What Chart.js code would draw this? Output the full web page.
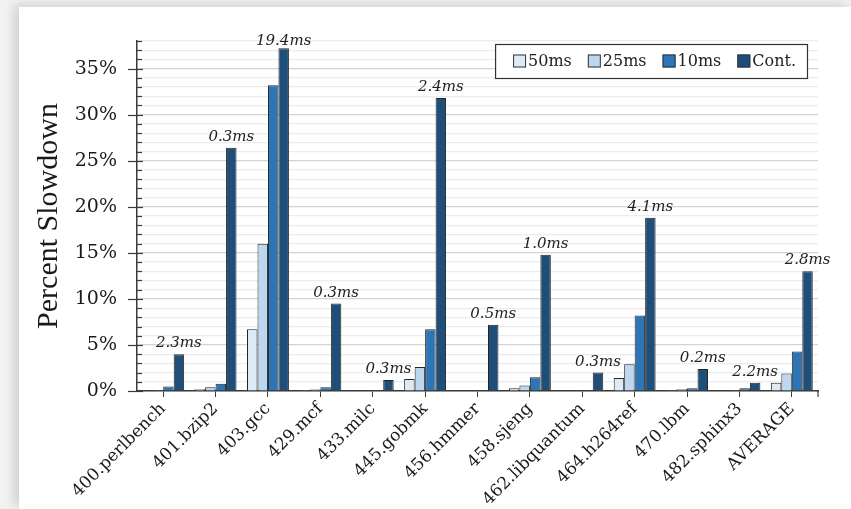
<!DOCTYPE html>
<html><head><meta charset="utf-8">
<script src="https://cdn.jsdelivr.net/npm/chart.js@4.4.0/dist/chart.umd.min.js"></script>
<style>
html,body{margin:0;padding:0;}
body{width:851px;height:509px;position:relative;overflow:hidden;background:#f2f2f2;}
#page{position:absolute;left:19px;top:7px;right:0;bottom:0;background:#fff;box-shadow:-5px -3px 10px rgba(0,0,0,0.14);}
#wrap{position:absolute;left:0;top:0;width:851px;height:509px;}
</style></head><body>
<div id="page"></div>
<div id="wrap"><canvas id="c" width="851" height="509"></canvas></div>
<script>
const categories = ['400.perlbench','401.bzip2','403.gcc','429.mcf','433.milc','445.gobmk','456.hmmer','458.sjeng','462.libquantum','464.h264ref','470.lbm','482.sphinx3','AVERAGE'];
const seriesNames = ['50ms','25ms','10ms','Cont.'];
const slow50ms = [0.05, 0.2, 6.7, 0.1, 0.05, 1.3, 0.05, 0.3, 0.05, 1.4, 0.1, 0.05, 0.9];
const slow25ms = [0.1, 0.4, 16.0, 0.15, 0.05, 2.6, 0.05, 0.6, 0.05, 2.9, 0.2, 0.1, 1.9];
const slow10ms = [0.5, 0.8, 33.2, 0.4, 0.1, 6.7, 0.05, 1.5, 0.1, 8.2, 0.3, 0.3, 4.3];
const slowCont = [4.0, 26.4, 37.2, 9.5, 1.2, 31.8, 7.2, 14.8, 2.0, 18.8, 2.4, 0.9, 13.0];
const contLabels = ['2.3ms','0.3ms','19.4ms','0.3ms','0.3ms','2.4ms','0.5ms','1.0ms','0.3ms','4.1ms','0.2ms','2.2ms','2.8ms'];
const yMax = 38;
const yMajorStep = 5;

const colors = ['#deebf7','#bdd7ee','#2e75b6','#1f4e79'];
const serif = 'DejaVu Serif';

const decor = {
  id: 'decor',
  afterDraw(chart) {
    const ctx = chart.ctx;
    const ys = chart.scales.y;
    const ca = chart.chartArea;
    ctx.save();
    // y ticks (minor inside, major crossing)
    ctx.strokeStyle = '#3a3a3a';
    ctx.lineWidth = 1.2;
    const ax = ca.left;
    for (let v = 0; v <= yMax; v++) {
      const y = Math.round(ys.getPixelForValue(v)) + 0.5;
      ctx.beginPath();
      if (v % yMajorStep === 0) { ctx.moveTo(ax - 9, y); ctx.lineTo(ax + 6, y); }
      else { ctx.moveTo(ax, y); ctx.lineTo(ax + 5, y); }
      ctx.stroke();
    }
    // end tick on x axis
    ctx.beginPath();
    ctx.moveTo(ca.right, ca.bottom); ctx.lineTo(ca.right, ca.bottom + 6); ctx.stroke();

    // labels above Cont bars
    const meta = chart.getDatasetMeta(3);
    ctx.fillStyle = '#222';
    ctx.font = 'italic 15px "' + serif + '"';
    ctx.textAlign = 'center';
    ctx.textBaseline = 'alphabetic';
    meta.data.forEach((el, i) => {
      const y = Math.max(el.y - 7, ca.top + 4);
      ctx.fillText(contLabels[i], el.x, y);
    });

    // legend box
    ctx.font = '16px "' + serif + '"';
    const widths = seriesNames.map(n => ctx.measureText(n).width);
    const boxW = 18 + widths.reduce((a, w) => a + 15 + w, 0) + 16 * (seriesNames.length - 1) + 11;
    const boxH = 34;
    const right = ca.right - 11;
    const top = ca.top + 3;
    const left = right - boxW;
    ctx.fillStyle = '#fff';
    ctx.fillRect(left, top, boxW, boxH);
    ctx.strokeStyle = '#333';
    ctx.lineWidth = 1.2;
    ctx.strokeRect(left + 0.5, top + 0.5, boxW, boxH);
    let x = left + 18;
    const cy = top + boxH / 2;
    ctx.textAlign = 'left';
    ctx.textBaseline = 'middle';
    seriesNames.forEach((n, i) => {
      ctx.fillStyle = colors[i];
      ctx.fillRect(x, cy - 6.5, 13, 13);
      ctx.strokeStyle = '#333';
      ctx.lineWidth = 1;
      ctx.strokeRect(x + 0.5, cy - 6.5 + 0.5, 12, 12);
      ctx.fillStyle = '#222';
      ctx.fillText(n, x + 15, cy + 1);
      x += 15 + widths[i] + 16;
    });
    ctx.restore();
  }
};

const seriesData = [slow50ms, slow25ms, slow10ms, slowCont];
new Chart(document.getElementById('c'), {
  type: 'bar',
  data: {
    labels: categories,
    datasets: seriesNames.map((n, i) => ({
      label: n,
      data: seriesData[i],
      backgroundColor: colors[i],
      borderColor: '#262626',
      borderWidth: 1,
      barPercentage: 1.0,
      categoryPercentage: 0.8
    }))
  },
  options: {
    responsive: false,
    devicePixelRatio: 1,
    animation: false,
    layout: { padding: { left: 19, top: 41, right: 33, bottom: 0 } },
    plugins: { legend: { display: false }, tooltip: { enabled: false } },
    scales: {
      x: {
        afterFit(s) { s.height = 118; },
        border: { color: '#3a3a3a', width: 1.5 },
        grid: { display: true, drawOnChartArea: false, drawTicks: true, tickLength: 6, offset: false, color: '#3a3a3a' },
        ticks: { maxRotation: 45, minRotation: 45, autoSkip: false, padding: 2, color: '#1a1a1a', font: { family: serif, size: 17 } }
      },
      y: {
        min: 0, max: yMax,
        afterFit(s) { s.width = 118; },
        border: { color: '#3a3a3a', width: 1.5 },
        grid: {
          color: c => (c.tick && c.tick.value % yMajorStep === 0) ? '#d4d4d4' : '#ececec',
          lineWidth: 1.2,
          drawTicks: false
        },
        ticks: {
          stepSize: 1, autoSkip: false, padding: 20, color: '#1a1a1a',
          font: { family: serif, size: 19 },
          callback: v => v % yMajorStep === 0 ? v + '%' : ''
        },
        title: { display: true, text: 'Percent Slowdown', color: '#1a1a1a', font: { family: 'Liberation Serif', size: 30 }, padding: { top: 12, bottom: 0 } }
      }
    }
  },
  plugins: [decor]
});
</script>
</body></html>
